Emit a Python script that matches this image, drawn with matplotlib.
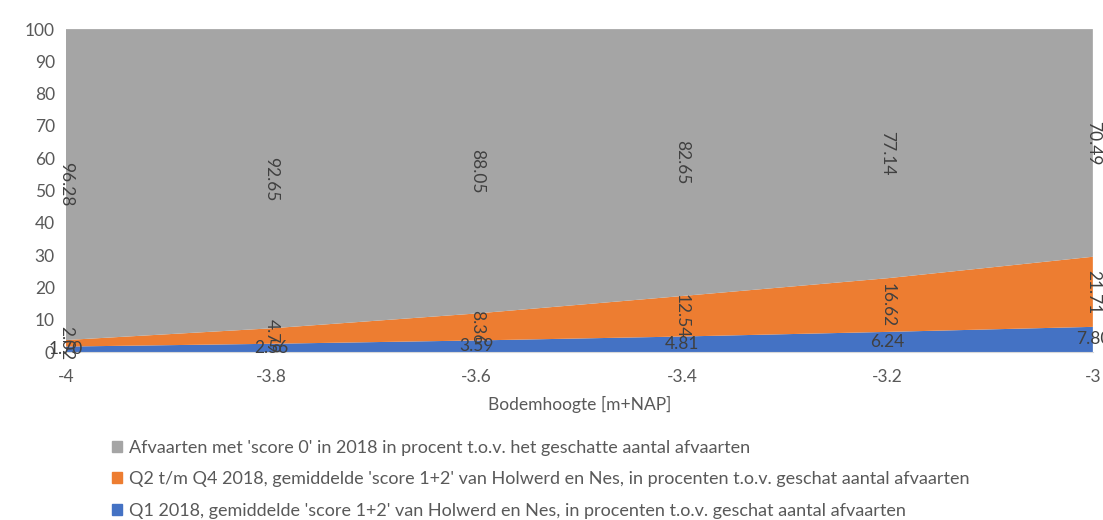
import numpy as np
import matplotlib
matplotlib.use("Agg")
import matplotlib.pyplot as plt
from matplotlib.patches import Patch

plt.rcParams['font.family'] = ['Lato', 'DejaVu Sans']

# --- data ---
bodemhoogte = [-4, -3.8, -3.6, -3.4, -3.2, -3]
xtick_labels = ["-4", "-3.8", "-3.6", "-3.4", "-3.2", "-3"]
q1_2018 = [1.70, 2.56, 3.59, 4.81, 6.24, 7.80]
q2_q4_2018 = [2.02, 4.79, 8.36, 12.54, 16.62, 21.71]
score_0 = [96.28, 92.65, 88.05, 82.65, 77.14, 70.49]

labels = [
    "Q1 2018, gemiddelde 'score 1+2' van Holwerd en Nes, in procenten t.o.v. geschat aantal afvaarten",
    "Q2 t/m Q4 2018, gemiddelde 'score 1+2' van Holwerd en Nes, in procenten t.o.v. geschat aantal afvaarten",
    "Afvaarten met 'score 0' in 2018 in procent t.o.v. het geschatte aantal afvaarten",
]
colors = ['#4472C4', '#ED7D31', '#A5A5A5']
text_col = '#595959'
label_col = '#404040'

fig = plt.figure(figsize=(11.03, 5.2), dpi=100)
ax = fig.add_axes([0.0598, 0.323, 0.931, 0.621])

series = [q1_2018, q2_q4_2018, score_0]
ax.stackplot(bodemhoogte, *series, colors=colors, linewidth=0)

# data labels centred in each band; blue horizontal, the others rotated
base = np.zeros(len(bodemhoogte))
for i, vals in enumerate(series):
    vals = np.array(vals)
    mids = base + vals / 2
    for x, y, v in zip(bodemhoogte, mids, vals):
        ax.text(x, y, f"{v:.2f}", ha='center', va='center', fontsize=12.5,
                color=label_col, rotation=0 if i == 0 else 270, clip_on=False)
    base = base + vals

ax.set_xlim(-4, -3)
ax.set_ylim(0, 100)
ax.set_yticks(range(0, 101, 10))
ax.set_xticks(bodemhoogte)
ax.set_xticklabels(xtick_labels)
ax.tick_params(length=0, labelsize=12.5, labelcolor=text_col)
ax.tick_params(axis='x', pad=12)
ax.tick_params(axis='y', pad=8)
for s in ['top', 'right', 'left']:
    ax.spines[s].set_visible(False)
ax.spines['bottom'].set_color('#D9D9D9')

ax.set_xlabel("Bodemhoogte [m+NAP]", fontsize=12.5, color=text_col, labelpad=8)

handles = [Patch(color=c) for c in colors][::-1]
fig.legend(handles, labels[::-1], loc='upper left', bbox_to_anchor=(0.095, 0.168),
           frameon=False, fontsize=13, labelcolor=text_col, handlelength=0.55,
           handleheight=0.55, handletextpad=0.4, labelspacing=0.85, borderaxespad=0)

fig.savefig("out.png", dpi=100)
